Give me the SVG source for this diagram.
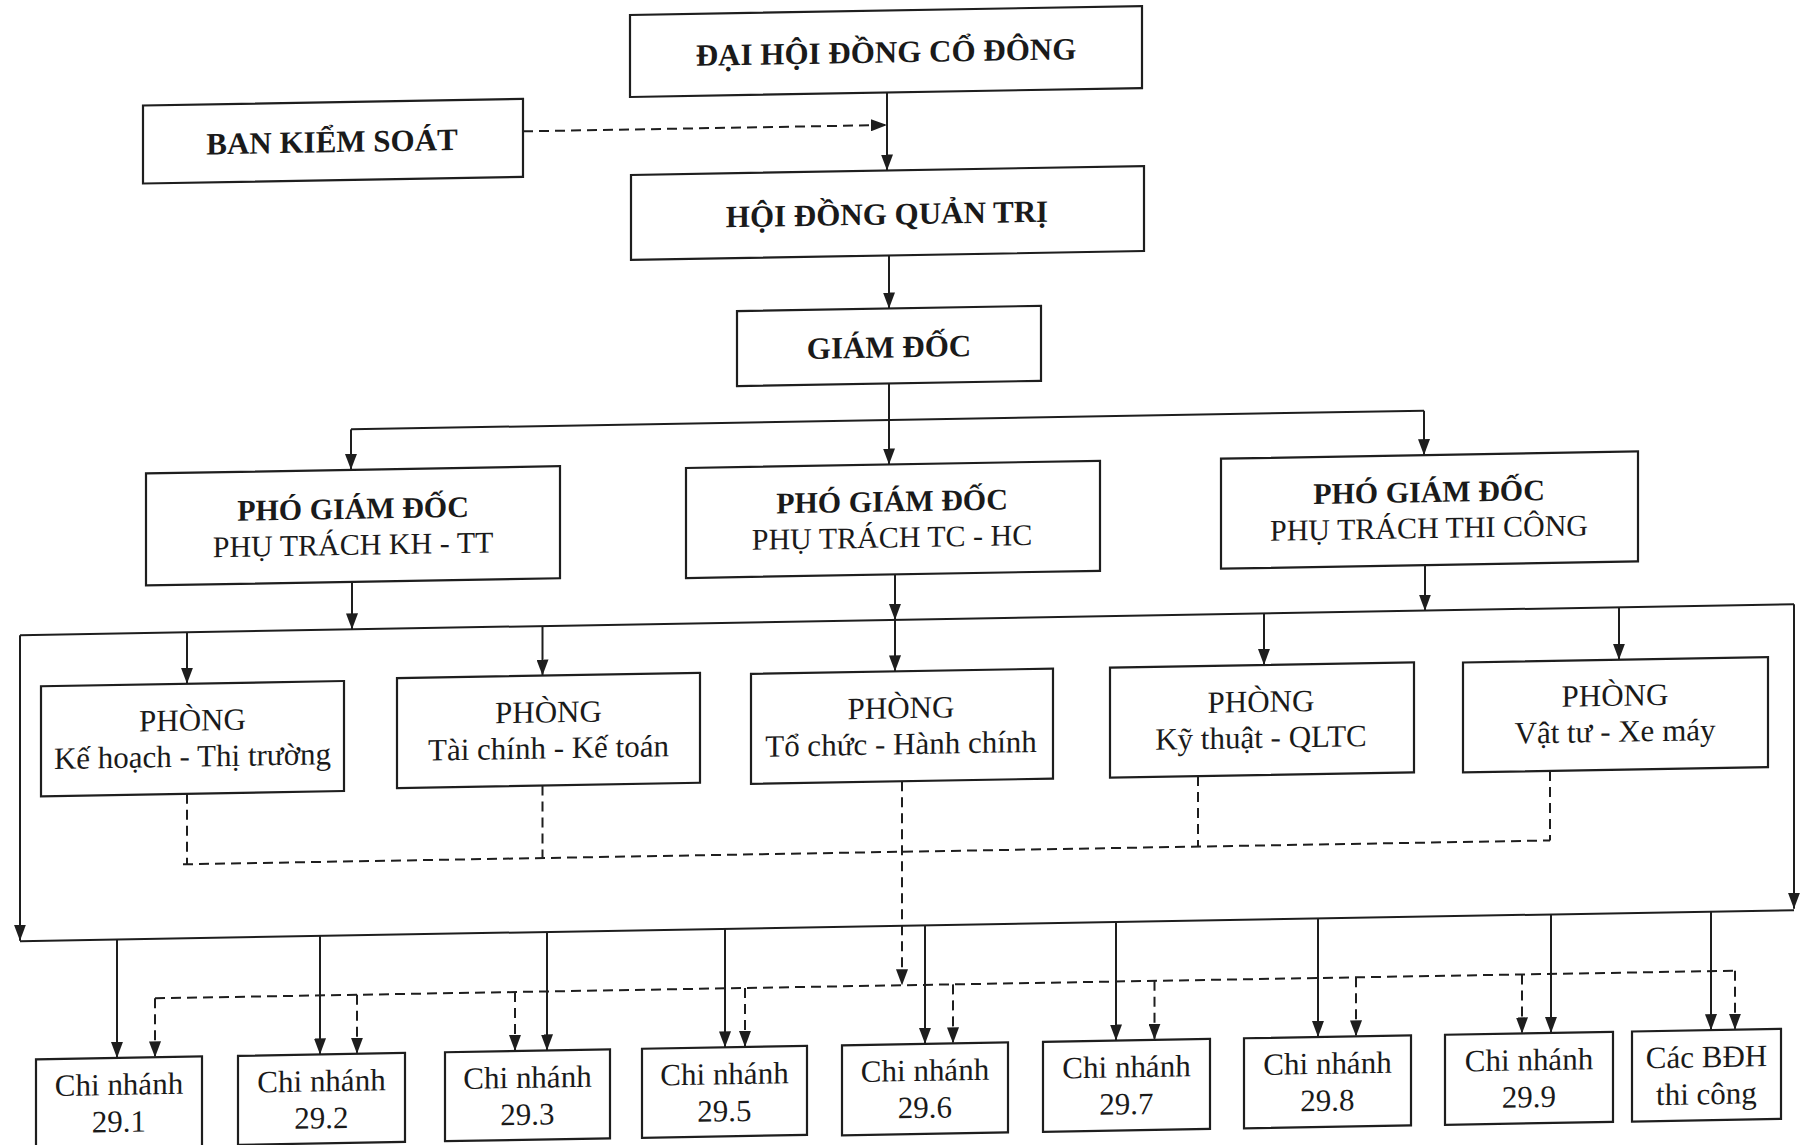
<svg xmlns="http://www.w3.org/2000/svg" width="1803" height="1145" viewBox="0 0 1803 1145">
<style>
.box{fill:#fff;stroke:#1e1e1e;stroke-width:2.2}
.t{font-family:"Liberation Serif","Times New Roman",serif;font-size:31px;fill:#1a1a1a;text-anchor:middle}
.s{font-size:30px}
.b{font-weight:bold}
.ln{fill:none;stroke:#1e1e1e;stroke-width:2}
.ar{marker-end:url(#ah)}
.ds{stroke-dasharray:10 6}
</style>
<defs>
<marker id="ah" markerUnits="userSpaceOnUse" viewBox="0 0 16 12" markerWidth="16" markerHeight="12" refX="16" refY="6" orient="auto">
<path d="M0,0 L16,6 L0,12 z" fill="#1e1e1e"/>
</marker>
</defs>
<rect width="1803" height="1145" fill="#fff"/>
<g transform="skewY(-1)">
<g id="connectors">
<path class="ln ar" d="M887,108 V186"/>
<path class="ln ar ds" d="M523,140.5 H887"/>
<path class="ln ar" d="M889,271 V324"/>
<path class="ln ar" d="M889,399 V480"/>
<path class="ln" d="M351,435.5 H1424"/>
<path class="ln ar" d="M351,435.5 V476"/>
<path class="ln ar" d="M1424,435.5 V480"/>
<path class="ln ar" d="M352,588 V635.5"/>
<path class="ln ar" d="M895,590 V635.5"/>
<path class="ln ar" d="M895,635.5 V687"/>
<path class="ln ar" d="M1425,590 V635.5"/>
<path class="ln" d="M20,635.5 H1794"/>
<path class="ln ar" d="M20,635.5 V941"/>
<path class="ln ar" d="M1794,635.5 V940"/>
<path class="ln" d="M20,941.5 H1794"/>
<path class="ln ar" d="M187,635.5 V687"/>
<path class="ln ar" d="M542.5,635.5 V685"/>
<path class="ln ar" d="M1264,635.5 V687"/>
<path class="ln ar" d="M1619,635.5 V688"/>
<path class="ln ar" d="M117,941.5 V1060"/>
<path class="ln ar" d="M320,941.5 V1060"/>
<path class="ln ar" d="M547,941.5 V1060"/>
<path class="ln ar" d="M725,941.5 V1060"/>
<path class="ln ar" d="M925,941.5 V1060"/>
<path class="ln ar" d="M1116,941.5 V1060"/>
<path class="ln ar" d="M1318,941.5 V1060"/>
<path class="ln ar" d="M1551,941.5 V1060"/>
<path class="ln ar" d="M1711,941.5 V1060"/>
<path class="ln ds" d="M187,797 V867.5"/>
<path class="ln ds" d="M542.5,795 V867.5"/>
<path class="ln ds" d="M1198,797 V867.5"/>
<path class="ln ds" d="M1550,798 V867.5"/>
<path class="ln ds" d="M183,867.5 H1550"/>
<path class="ln ds ar" d="M902,797 V1001"/>
<path class="ln ds" d="M155,1001 H1735"/>
<path class="ln ds ar" d="M155,1001 V1060"/>
<path class="ln ds ar" d="M357,1001 V1060"/>
<path class="ln ds ar" d="M515,1001 V1060"/>
<path class="ln ds ar" d="M745,1001 V1060"/>
<path class="ln ds ar" d="M953,1001 V1060"/>
<path class="ln ds ar" d="M1154.5,1001 V1060"/>
<path class="ln ds ar" d="M1356,1001 V1060"/>
<path class="ln ds ar" d="M1522,1001 V1060"/>
<path class="ln ds ar" d="M1735,1001 V1060"/>
</g>
<g id="n-dhdcd"><rect class="box" x="630" y="26" width="512" height="82"/><text class="t b" x="886" y="78">ĐẠI HỘI ĐỒNG CỔ ĐÔNG</text></g>
<g id="n-bks"><rect class="box" x="143" y="108" width="380" height="78"/><text class="t b" x="332" y="158">BAN KIỂM SOÁT</text></g>
<g id="n-hdqt"><rect class="box" x="631" y="186" width="513" height="85"/><text class="t b" x="887" y="240">HỘI ĐỒNG QUẢN TRỊ</text></g>
<g id="n-gd"><rect class="box" x="737" y="324" width="304" height="75"/><text class="t b" x="889" y="373">GIÁM ĐỐC</text></g>
<g id="n-pgd1"><rect class="box" x="146" y="476" width="414" height="112"/><text class="t s b" x="353" y="525">PHÓ GIÁM ĐỐC</text><text class="t s" x="353" y="561">PHỤ TRÁCH KH - TT</text></g>
<g id="n-pgd2"><rect class="box" x="686" y="480" width="414" height="110"/><text class="t s b" x="892" y="527">PHÓ GIÁM ĐỐC</text><text class="t s" x="892" y="563">PHỤ TRÁCH TC - HC</text></g>
<g id="n-pgd3"><rect class="box" x="1221" y="480" width="417" height="110"/><text class="t s b" x="1429" y="527">PHÓ GIÁM ĐỐC</text><text class="t s" x="1429" y="563">PHỤ TRÁCH THI CÔNG</text></g>
<g id="n-p1"><rect class="box" x="41" y="687" width="303" height="110"/><text class="t" x="192.5" y="734">PHÒNG</text><text class="t" x="192.5" y="770">Kế hoạch - Thị trường</text></g>
<g id="n-p2"><rect class="box" x="397" y="685" width="303" height="110"/><text class="t" x="548.5" y="732">PHÒNG</text><text class="t" x="548.5" y="768">Tài chính - Kế toán</text></g>
<g id="n-p3"><rect class="box" x="751" y="687" width="302" height="110"/><text class="t" x="901" y="734">PHÒNG</text><text class="t" x="901" y="770">Tổ chức - Hành chính</text></g>
<g id="n-p4"><rect class="box" x="1110" y="687" width="304" height="110"/><text class="t" x="1261" y="734">PHÒNG</text><text class="t" x="1261" y="770">Kỹ thuật - QLTC</text></g>
<g id="n-p5"><rect class="box" x="1463" y="688" width="305" height="110"/><text class="t" x="1615" y="734">PHÒNG</text><text class="t" x="1615" y="770">Vật tư - Xe máy</text></g>
<g id="n-cn291"><rect class="box" x="36" y="1060" width="166" height="90"/><text class="t" x="119" y="1097">Chi nhánh</text><text class="t" x="119" y="1134">29.1</text></g>
<g id="n-cn292"><rect class="box" x="238" y="1060" width="167" height="89"/><text class="t" x="321.5" y="1097">Chi nhánh</text><text class="t" x="321.5" y="1134">29.2</text></g>
<g id="n-cn293"><rect class="box" x="445" y="1060" width="165" height="89"/><text class="t" x="527.5" y="1097">Chi nhánh</text><text class="t" x="527.5" y="1134">29.3</text></g>
<g id="n-cn295"><rect class="box" x="642" y="1060" width="165" height="89"/><text class="t" x="724.5" y="1097">Chi nhánh</text><text class="t" x="724.5" y="1134">29.5</text></g>
<g id="n-cn296"><rect class="box" x="842" y="1060" width="166" height="90"/><text class="t" x="925" y="1097">Chi nhánh</text><text class="t" x="925" y="1134">29.6</text></g>
<g id="n-cn297"><rect class="box" x="1043" y="1060" width="167" height="90"/><text class="t" x="1126.5" y="1097">Chi nhánh</text><text class="t" x="1126.5" y="1134">29.7</text></g>
<g id="n-cn298"><rect class="box" x="1244" y="1060" width="167" height="90"/><text class="t" x="1327.5" y="1097">Chi nhánh</text><text class="t" x="1327.5" y="1134">29.8</text></g>
<g id="n-cn299"><rect class="box" x="1445" y="1060" width="168" height="90"/><text class="t" x="1529" y="1097">Chi nhánh</text><text class="t" x="1529" y="1134">29.9</text></g>
<g id="n-bdh"><rect class="box" x="1632" y="1060" width="149" height="90"/><text class="t" x="1706.5" y="1097">Các BĐH</text><text class="t" x="1706.5" y="1134">thi công</text></g>
</g>
</svg>
